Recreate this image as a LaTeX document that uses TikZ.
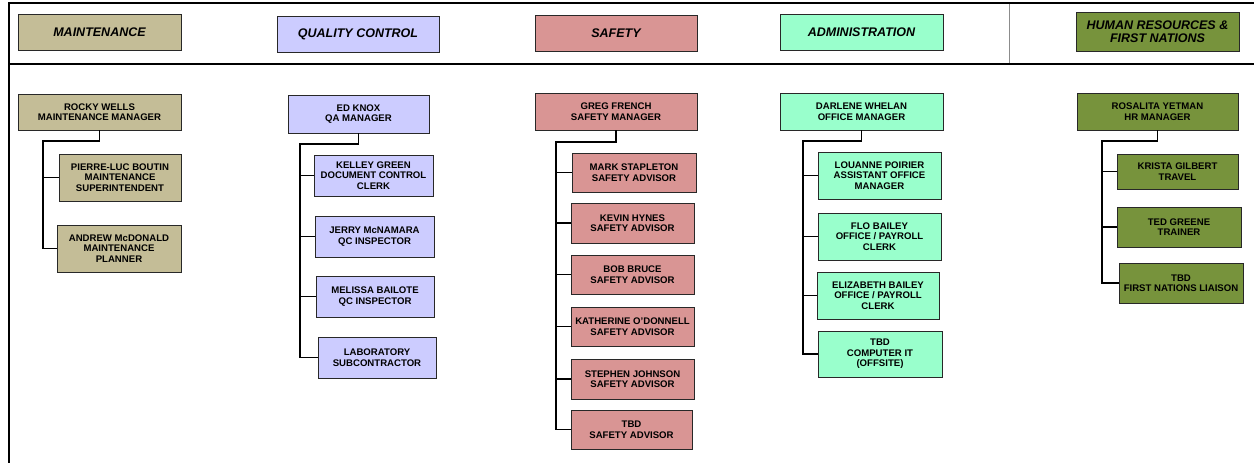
\documentclass[tikz,border=0pt]{standalone}
\usepackage{fontspec}
\setmainfont{Liberation Sans}
\definecolor{cMaint}{RGB}{196,189,151}
\definecolor{cQC}{RGB}{204,204,255}
\definecolor{cSafe}{RGB}{217,149,148}
\definecolor{cAdmin}{RGB}{153,255,204}
\definecolor{cHR}{RGB}{119,147,60}
\definecolor{cBorder}{RGB}{40,40,40}
\tikzset{
  box/.style={draw=cBorder, line width=0.9pt, align=center, inner sep=0pt,
    font=\bfseries\fontsize{9.6}{10.5}\selectfont},
  headbox/.style={box, font=\bfseries\itshape\fontsize{12.5}{13.5}\selectfont},
  conn/.style={draw=black, line width=1.1pt},
  frameline/.style={draw=black, line width=1.3pt},
  sepline/.style={draw=black!45, line width=1pt},
  sz/.style n args={2}{minimum width=#1pt, minimum height=#2pt}
}
\begin{document}
\begin{tikzpicture}[x=1pt,y=-1pt]
\useasboundingbox (0,0) rectangle (1254,463);
% frame
\coordinate (fbl) at (9,463);
\coordinate (ftl) at (9,3);
\coordinate (ftr) at (1254,3);
\coordinate (hl) at (9,64);
\coordinate (hr) at (1254,64);
\coordinate (st) at (1009,3);
\coordinate (sb) at (1009,64);
\draw[sepline] (st) -- (sb);
\draw[frameline] (fbl) -- (ftl) -- (ftr);
\draw[frameline] (hl) -- (hr);

% headers
\node[headbox, fill=cMaint, sz={163}{36}] (mh) at (99.5,32) {MAINTENANCE};
\node[headbox, fill=cQC, sz={162}{36}] (qh) at (358,34) {QUALITY CONTROL};
\node[headbox, fill=cSafe, sz={162}{36}] (sh) at (616,33) {SAFETY};
\node[headbox, fill=cAdmin, sz={163}{36}] (ah) at (861.5,32) {ADMINISTRATION};
\node[headbox, fill=cHR, sz={163}{39}] (hh) at (1157.5,31.5) {HUMAN RESOURCES \&\\FIRST NATIONS};

% maintenance
\node[box, fill=cMaint, sz={163}{36}] (m0) at (99.5,112) {ROCKY WELLS\\MAINTENANCE MANAGER};
\node[box, fill=cMaint, sz={122}{47}] (m1) at (120,177.5) {PIERRE-LUC BOUTIN\\MAINTENANCE\\SUPERINTENDENT};
\node[box, fill=cMaint, sz={124}{47}] (m2) at (119,248.5) {ANDREW McDONALD\\MAINTENANCE\\PLANNER};
\coordinate (mt) at (43,141);
\draw[conn] (m0.south) |- (mt) |- (m2.west);
\draw[conn] (mt |- m1.west) -- (m1.west);

% quality control
\node[box, fill=cQC, sz={141}{38}] (q0) at (358.5,114) {ED KNOX\\QA MANAGER};
\node[box, fill=cQC, sz={119}{41}] (q1) at (373.5,175.5) {KELLEY GREEN\\DOCUMENT CONTROL\\CLERK};
\node[box, fill=cQC, sz={119}{41}] (q2) at (374.5,236.5) {JERRY McNAMARA\\QC INSPECTOR};
\node[box, fill=cQC, sz={118}{41}] (q3) at (375,296.5) {MELISSA BAILOTE\\QC INSPECTOR};
\node[box, fill=cQC, sz={118}{41}] (q4) at (377,357.5) {LABORATORY\\SUBCONTRACTOR};
\coordinate (qt) at (300,144);
\draw[conn] (q0.south) |- (qt) |- (q4.west);
\foreach \n in {q1,q2,q3} \draw[conn] (qt |- \n.west) -- (\n.west);

% safety
\node[box, fill=cSafe, sz={162}{37}] (s0) at (616,111.5) {GREG FRENCH\\SAFETY MANAGER};
\node[box, fill=cSafe, sz={124}{39}] (s1) at (634,172.5) {MARK STAPLETON\\SAFETY ADVISOR};
\node[box, fill=cSafe, sz={123}{40}] (s2) at (632.5,223) {KEVIN HYNES\\SAFETY ADVISOR};
\node[box, fill=cSafe, sz={123}{39}] (s3) at (632.5,274.5) {BOB BRUCE\\SAFETY ADVISOR};
\node[box, fill=cSafe, sz={123}{39}] (s4) at (632.5,326.5) {KATHERINE O'DONNELL\\SAFETY ADVISOR};
\node[box, fill=cSafe, sz={123}{40}] (s5) at (632.5,379) {STEPHEN JOHNSON\\SAFETY ADVISOR};
\node[box, fill=cSafe, sz={121}{39}] (s6) at (631.5,429.5) {TBD\\SAFETY ADVISOR};
\coordinate (sT) at (556,142);
\draw[conn] (s0.south) |- (sT) |- (s6.west);
\foreach \n in {s1,s2,s3,s4,s5} \draw[conn] (sT |- \n.west) -- (\n.west);

% administration
\node[box, fill=cAdmin, sz={163}{37}] (a0) at (861.5,111.5) {DARLENE WHELAN\\OFFICE MANAGER};
\node[box, fill=cAdmin, sz={123}{47}] (a1) at (879.5,175.5) {LOUANNE POIRIER\\ASSISTANT OFFICE\\MANAGER};
\node[box, fill=cAdmin, sz={123}{47}] (a2) at (879.5,236.5) {FLO BAILEY\\OFFICE / PAYROLL\\CLERK};
\node[box, fill=cAdmin, sz={122}{47}] (a3) at (878,295.5) {ELIZABETH BAILEY\\OFFICE / PAYROLL\\CLERK};
\node[box, fill=cAdmin, sz={124}{46}] (a4) at (880,354) {TBD\\COMPUTER IT\\(OFFSITE)};
\coordinate (at) at (803,141);
\draw[conn] (a0.south) |- (at) |- (a4.west);
\foreach \n in {a1,a2,a3} \draw[conn] (at |- \n.west) -- (\n.west);

% human resources
\node[box, fill=cHR, sz={161}{37}] (h0) at (1157.5,111.5) {ROSALITA YETMAN\\HR MANAGER};
\node[box, fill=cHR, sz={121}{35}] (h1) at (1177.5,171.5) {KRISTA GILBERT\\TRAVEL};
\node[box, fill=cHR, sz={124}{40}] (h2) at (1179,227) {TED GREENE\\TRAINER};
\node[box, fill=cHR, sz={124}{40}] (h3) at (1181,283) {TBD\\FIRST NATIONS LIAISON};
\coordinate (ht) at (1102,141);
\draw[conn] (h0.south) |- (ht) |- (h3.west);
\foreach \n in {h1,h2} \draw[conn] (ht |- \n.west) -- (\n.west);
\end{tikzpicture}
\end{document}
